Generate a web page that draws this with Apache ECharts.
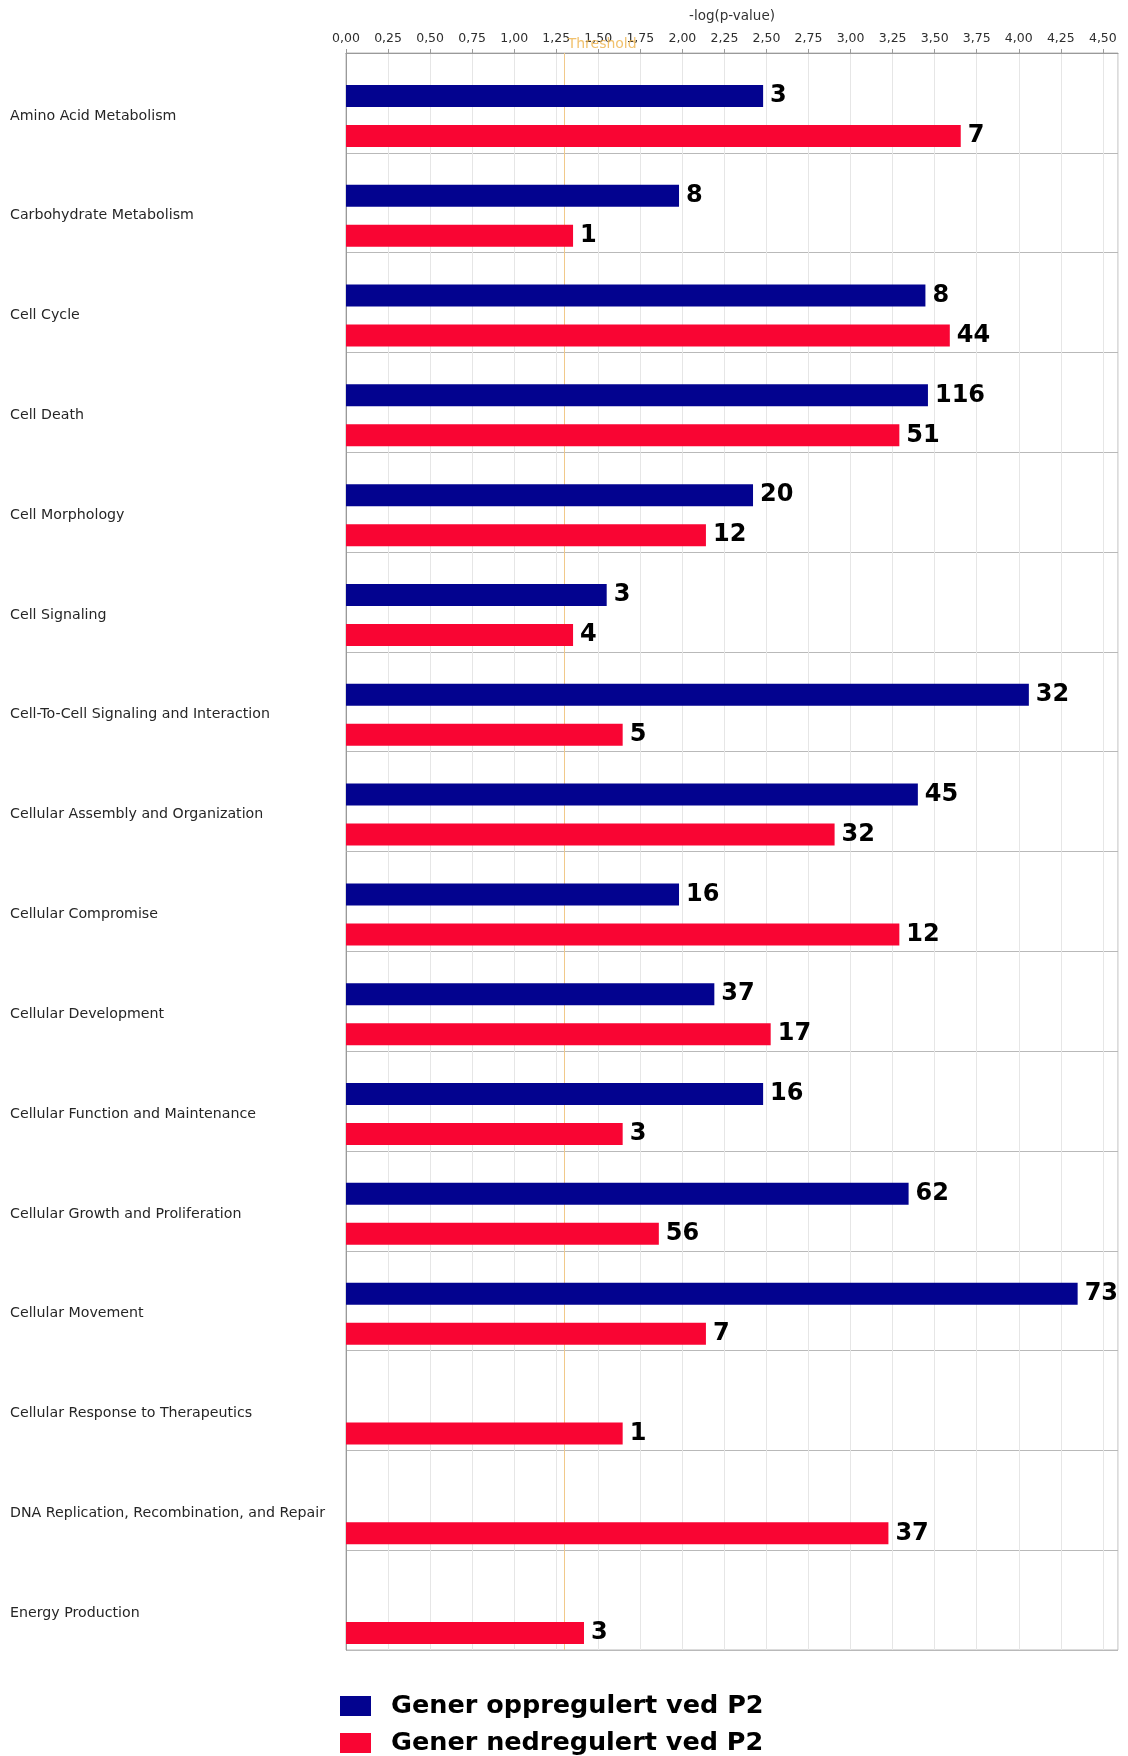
<!DOCTYPE html>
<html>
<head>
<meta charset="utf-8">
<script src="https://cdn.jsdelivr.net/npm/echarts@6/dist/echarts.min.js"></script>
<style>
  html, body { margin: 0; padding: 0; background: #ffffff; }
  #chart { width: 1128px; height: 1756px; }
</style>
</head>
<body>
<div id="chart"></div>
<script>
// Functional categories (top to bottom)
const categories = [
  'Amino Acid Metabolism',
  'Carbohydrate Metabolism',
  'Cell Cycle',
  'Cell Death',
  'Cell Morphology',
  'Cell Signaling',
  'Cell-To-Cell Signaling and Interaction',
  'Cellular Assembly and Organization',
  'Cellular Compromise',
  'Cellular Development',
  'Cellular Function and Maintenance',
  'Cellular Growth and Proliferation',
  'Cellular Movement',
  'Cellular Response to Therapeutics',
  'DNA Replication, Recombination, and Repair',
  'Energy Production'
];

// -log(p-value) per category
const upValues   = [2.48, 1.98, 3.445, 3.46, 2.42, 1.55, 4.06, 3.40, 1.98, 2.19, 2.48, 3.345, 4.35, null, null, null];
const downValues = [3.655, 1.35, 3.59, 3.29, 2.14, 1.35, 1.645, 2.905, 3.29, 2.525, 1.645, 1.86, 2.14, 1.645, 3.225, 1.415];

// number of genes behind each bar
const upCounts   = [3, 8, 8, 116, 20, 3, 32, 45, 16, 37, 16, 62, 73, null, null, null];
const downCounts = [7, 1, 44, 51, 12, 4, 5, 32, 12, 17, 3, 56, 7, 1, 37, 3];

const seriesNames = ['Gener oppregulert ved P2', 'Gener nedregulert ved P2'];
const tickLabels = ['0,00', '0,25', '0,50', '0,75', '1,00', '1,25', '1,50', '1,75', '2,00',
                    '2,25', '2,50', '2,75', '3,00', '3,25', '3,50', '3,75', '4,00', '4,25', '4,50'];
const tickStep = 0.25;
const axisMax = 4.59;
const threshold = 1.3;

// layout
const PLOT_LEFT = 346, PLOT_WIDTH = 772, PLOT_TOP = 53, PLOT_HEIGHT = 1597;
const BAR_SHIFT = 13;   // bar pairs and labels sit a little below the band centre
const FONT = 'DejaVu Sans';
const UP_COLOR = '#03038f';
const DOWN_COLOR = '#f90533';

function tickFormatter(v) {
  const i = Math.round(v / tickStep);
  if (Math.abs(v - i * tickStep) > 1e-6 || i >= tickLabels.length) return '';
  return tickLabels[i];
}

const valueLabel = (counts) => ({
  show: true,
  position: 'right',
  distance: 7,
  fontFamily: FONT,
  fontWeight: 'bold',
  fontSize: 24,
  color: '#000000',
  formatter: (p) => (counts[p.dataIndex] == null ? '' : String(counts[p.dataIndex]))
});

const chart = echarts.init(document.getElementById('chart'), null, { renderer: 'canvas' });

chart.setOption({
  animation: false,
  backgroundColor: '#ffffff',
  grid: [
    { left: PLOT_LEFT, top: PLOT_TOP, width: PLOT_WIDTH, height: PLOT_HEIGHT,
      show: true, borderColor: '#b9b9b9', borderWidth: 1 },
    { left: PLOT_LEFT, top: PLOT_TOP + BAR_SHIFT, width: PLOT_WIDTH, height: PLOT_HEIGHT }
  ],
  xAxis: [
    {
      gridIndex: 0, type: 'value', position: 'top',
      min: 0, max: axisMax, interval: tickStep,
      name: '-log(p-value)', nameLocation: 'middle', nameGap: 30,
      nameTextStyle: { fontFamily: FONT, fontSize: 13.5, color: '#333333' },
      axisLine: { show: true, lineStyle: { color: '#9a9a9a', width: 1 } },
      axisTick: { show: true, length: 4, lineStyle: { color: '#9a9a9a' } },
      axisLabel: { formatter: tickFormatter, margin: 8, fontFamily: FONT, fontSize: 12.5,
                   color: '#2e2e2e', showMaxLabel: false },
      splitLine: { show: true, lineStyle: { color: '#e6e6e6', width: 1 } }
    },
    { gridIndex: 1, type: 'value', min: 0, max: axisMax, show: false }
  ],
  yAxis: [
    {
      gridIndex: 0, type: 'category', inverse: true, data: categories,
      axisLine: { show: true, lineStyle: { color: '#9a9a9a' } },
      axisTick: { show: false },
      axisLabel: { show: false },
      splitLine: { show: true, interval: 0, lineStyle: { color: '#b9b9b9', width: 1 } }
    },
    {
      gridIndex: 1, type: 'category', inverse: true, data: categories,
      axisLine: { show: false }, axisTick: { show: false }, splitLine: { show: false },
      axisLabel: { show: true, interval: 0, align: 'left', margin: PLOT_LEFT - 10,
                   padding: [4, 0, 0, 0],
                   fontFamily: FONT, fontSize: 14.2, color: '#262626' }
    }
  ],
  legend: {
    data: seriesNames,
    orient: 'vertical', left: 340, top: 1693, padding: 0,
    itemWidth: 31, itemHeight: 20, itemGap: 11, icon: 'rect',
    textStyle: { fontFamily: FONT, fontWeight: 'bold', fontSize: 25.5, lineHeight: 24,
                 color: '#000000', padding: [2, 0, 0, 15] }
  },
  series: [
    {
      name: 'threshold', type: 'line', xAxisIndex: 0, yAxisIndex: 0, data: [], z: 1,
      markLine: {
        silent: true, symbol: 'none', label: { show: false }, z: 1,
        lineStyle: { color: '#f1c98a', width: 1, type: 'solid' },
        data: [{ xAxis: threshold }]
      }
    },
    {
      name: seriesNames[0], type: 'bar', xAxisIndex: 1, yAxisIndex: 1, zlevel: 1, z: 5,
      data: upValues, barWidth: 22, barGap: '82%',
      itemStyle: { color: UP_COLOR }, label: valueLabel(upCounts)
    },
    {
      name: seriesNames[1], type: 'bar', xAxisIndex: 1, yAxisIndex: 1, zlevel: 1, z: 5,
      data: downValues, barWidth: 22, barGap: '82%',
      itemStyle: { color: DOWN_COLOR }, label: valueLabel(downCounts)
    }
  ]
});

// threshold caption placed next to the threshold line, just above the plot
const tx = chart.convertToPixel({ xAxisIndex: 0 }, threshold);
chart.setOption({
  graphic: [{
    type: 'text', left: tx + 3, top: 37, silent: true, z: 10,
    style: { text: 'Threshold', fill: '#efb653', opacity: 0.85,
             font: '14px "' + FONT + '"' }
  }]
});
</script>
</body>
</html>
